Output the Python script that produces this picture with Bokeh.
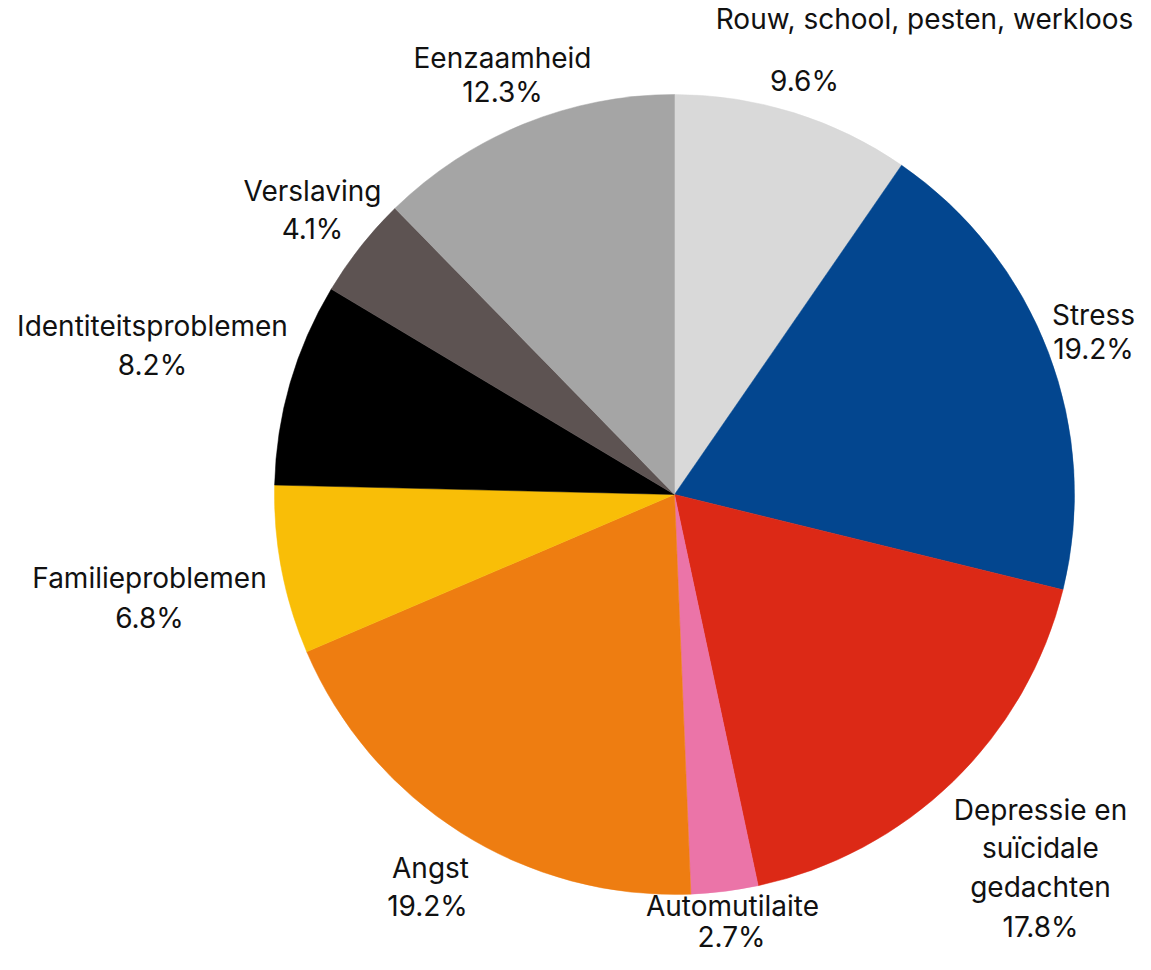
import numpy as np
from bokeh.plotting import figure
from bokeh.models import Range1d, ColumnDataSource
from bokeh.core.properties import value
from bokeh.embed import file_html
from bokeh.resources import INLINE

# ---- data ----
categories = ["Rouw, school, pesten, werkloos", "Stress",
              "Depressie en suïcidale gedachten", "Automutilaite", "Angst",
              "Familieproblemen", "Identiteitsproblemen", "Verslaving",
              "Eenzaamheid"]
percentages = [9.6, 19.2, 17.8, 2.7, 19.2, 6.8, 8.2, 4.1, 12.3]
colors = ["#d9d9d9", "#03468f", "#dc2916", "#eb74a8", "#ee7d11",
          "#f9be07", "#000000", "#5d5352", "#a5a5a5"]
# how each category name is broken into lines
label_lines = [["Rouw, school, pesten, werkloos"], ["Stress"],
               ["Depressie en", "suïcidale", "gedachten"], ["Automutilaite"],
               ["Angst"], ["Familieproblemen"], ["Identiteitsproblemen"],
               ["Verslaving"], ["Eenzaamheid"]]

# ---- layout (pixel positions: centre x, baseline y for each line) ----
label_pos = [
    [(924, 28), (804, 90)],
    [(1093, 324), (1093, 358)],
    [(1040, 819), (1040, 857), (1040, 896), (1040, 936)],
    [(732, 915), (731, 946)],
    [(430, 877), (427, 915)],
    [(149, 587), (149, 627)],
    [(152, 335), (152, 374)],
    [(312, 200), (312, 238)],
    [(502, 67), (502, 101)],
]
BASELINE_SHIFT = 10   # renderer draws alphabetic text ~10px lower
CX, CY, R = 674, 494, 400
W, H = 1135, 954
FONT = "Inter"

total = sum(percentages)
cum = np.concatenate([[0.0], np.cumsum(percentages)]) / total
start = np.pi / 2 - 2 * np.pi * cum[:-1]
end = np.pi / 2 - 2 * np.pi * cum[1:]

wsrc = ColumnDataSource(dict(cat=categories, pct=percentages, color=colors,
                             start=start, end=end))

tx, ty, tt = [], [], []
for lines, pct, pos in zip(label_lines, percentages, label_pos):
    texts = lines + [f"{pct}%"]
    for t, (px, py) in zip(texts, pos):
        tx.append(px - CX)
        ty.append(CY - (py - BASELINE_SHIFT))
        tt.append(t)
tsrc = ColumnDataSource(dict(x=tx, y=ty, text=tt))

p = figure(width=W, height=H, output_backend="svg", toolbar_location=None,
           x_range=Range1d(-CX, W - CX),
           y_range=Range1d(CY - H, CY),
           x_axis_type=None, y_axis_type=None, min_border=0,
           outline_line_color=None, background_fill_color="white",
           border_fill_color="white")
p.grid.visible = False

p.wedge(x=0, y=0, radius=R, start_angle="start", end_angle="end",
        direction="clock", fill_color="color", line_color="color",
        line_width=0.5, source=wsrc)

p.text(x="x", y="y", text="text", source=tsrc, text_align="center",
       text_baseline="alphabetic", text_font=value(FONT),
       text_font_size="28px", text_color="#111111")

open("out.html", "w").write(file_html(p, INLINE))
